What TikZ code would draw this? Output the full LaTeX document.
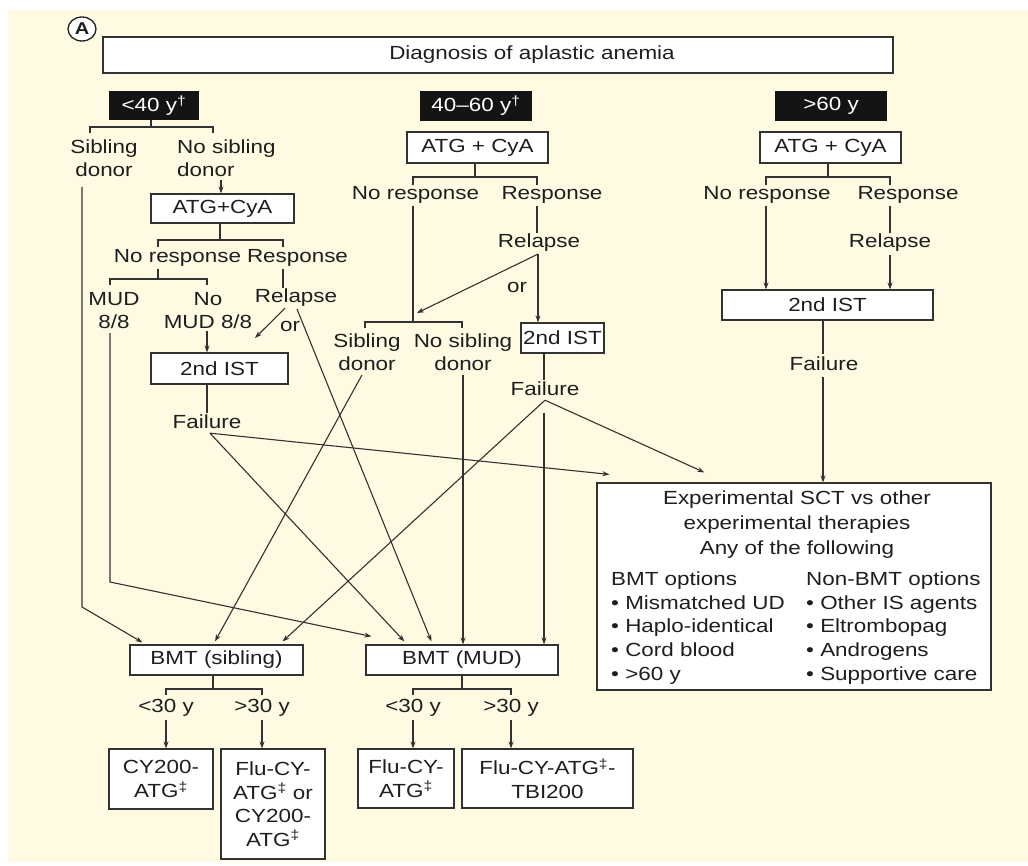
\documentclass[tikz,border=0pt]{standalone}
\usepackage{fontspec}
\setmainfont{Liberation Sans}[FakeStretch=1.18]
\usetikzlibrary{arrows.meta,calc,shapes.geometric}
\definecolor{bg}{RGB}{254,251,226}
\definecolor{ink}{RGB}{30,30,30}
\definecolor{linec}{RGB}{50,50,50}
\tikzset{
 base/.style={font=\fontsize{19}{23.5}\selectfont, text=ink, align=center, inner sep=0pt},
 box/.style={base, draw=linec, fill=white, line width=1.2pt},
 blk/.style={base, fill=black!92, text=white},
 lbl/.style={base},
 ln/.style={draw=linec, line width=1.1pt},
 arr/.style={ln, -{Stealth[length=7pt,width=5pt]}},
}
\begin{document}
\begin{tikzpicture}[x=1pt,y=-1pt]
\useasboundingbox (0,0) rectangle (1028,865);
\fill[bg] (8,10) rectangle (1028,862);

% ---------- header ----------
\node[box, minimum width=790pt, minimum height=36pt] (main) at (498,55) {};
\node[lbl] (maint) at (532,55) {Diagnosis of aplastic anemia};
\node[ellipse, draw=ink, fill=white, line width=1.3pt, inner sep=0pt, minimum width=28pt, minimum height=24pt,
      font=\fontsize{17}{17}\selectfont\bfseries, text=ink] (cA) at (82,29) {A};

\node[blk, minimum width=90pt, minimum height=29pt] (b1) at (154,105.5) {<40 y\textsuperscript{†}};
\node[blk, minimum width=112pt, minimum height=30pt] (b2) at (476,106) {40–60 y\textsuperscript{†}};
\node[blk, minimum width=112pt, minimum height=30pt] (b3) at (831,106) {>60 y};

% ---------- left column ----------
\node[lbl] (sd1) at (104,158) {Sibling\\donor};
\node[lbl, align=left, anchor=west] (nsd1) at (177,158) {No sibling\\donor};
\node[box, minimum width=143pt, minimum height=29pt] (atg1) at (222.5,208.5) {ATG+CyA};
\node[lbl] (nr1) at (177.5,258) {No response};
\node[lbl] (r1) at (297.5,258) {Response};
\node[lbl] (mud1) at (114,310.5) {MUD\\8/8};
\node[lbl] (nmud1) at (208,310.5) {No\\MUD 8/8};
\node[lbl] (rel1) at (296,298) {Relapse};
\node[lbl] (or1) at (290,326) {or};
\node[box, minimum width=137pt, minimum height=31pt] (ist1) at (219.5,368.5) {2nd IST};
\node[lbl] (fail1) at (207,422) {Failure};

% ---------- middle column ----------
\node[box, minimum width=141pt, minimum height=31pt] (atg2) at (477.5,147.5) {ATG + CyA};
\node[lbl] (nr2) at (415.5,195) {No response};
\node[lbl] (r2) at (552,195) {Response};
\node[lbl] (rel2) at (539,243) {Relapse};
\node[lbl] (or2) at (517,287) {or};
\node[lbl] (sd2) at (367,352) {Sibling\\donor};
\node[lbl] (nsd2) at (463,352) {No sibling\\donor};
\node[box, minimum width=83pt, minimum height=30pt] (ist2) at (562.5,338) {2nd IST};
\node[lbl] (fail2) at (545,389) {Failure};

% ---------- right column ----------
\node[box, minimum width=141pt, minimum height=31pt] (atg3) at (830.5,147.5) {ATG + CyA};
\node[lbl] (nr3) at (767,195) {No response};
\node[lbl] (r3) at (908,195) {Response};
\node[lbl] (rel3) at (890,243) {Relapse};
\node[box, minimum width=211pt, minimum height=30pt] (ist3) at (827.5,305) {2nd IST};
\node[lbl] (fail3) at (824,364) {Failure};

% ---------- experimental box ----------
\node[box, minimum width=394pt, minimum height=207pt] (sct) at (794,586.5) {};
\node[lbl, font=\fontsize{19}{25}\selectfont] (sctt) at (797,525) {Experimental SCT vs other\\experimental therapies\\Any of the following};
\node[lbl, align=left, anchor=west, font=\fontsize{19}{23.75}\selectfont] (bmto) at (611,628) {BMT options\\• Mismatched UD\\• Haplo-identical\\• Cord blood\\• >60 y};
\node[lbl, align=left, anchor=west, font=\fontsize{19}{23.75}\selectfont] (nbmto) at (806,628) {Non-BMT options\\• Other IS agents\\• Eltrombopag\\• Androgens\\• Supportive care};

% ---------- BMT boxes ----------
\node[box, minimum width=173pt, minimum height=30pt] (sib) at (216.5,660) {BMT (sibling)};
\node[box, minimum width=192pt, minimum height=30pt] (mud) at (462,660) {BMT (MUD)};
\node[lbl] (lt1) at (166,708) {<30 y};
\node[lbl] (gt1) at (262,708) {>30 y};
\node[lbl] (lt2) at (413,708) {<30 y};
\node[lbl] (gt2) at (511,708) {>30 y};
\node[box, minimum width=104pt, minimum height=60pt] (cy1) at (161,779) {CY200-\\ATG\textsuperscript{‡}};
\node[box, minimum width=104pt, minimum height=110pt] (fl1) at (273,804) {Flu-CY-\\ATG\textsuperscript{‡} or\\CY200-\\ATG\textsuperscript{‡}};
\node[box, minimum width=96pt, minimum height=59pt] (fl2) at (406,778.5) {Flu-CY-\\ATG\textsuperscript{‡}};
\node[box, minimum width=171pt, minimum height=59pt] (fl3) at (547.5,778.5) {Flu-CY-ATG\textsuperscript{‡}-\\TBI200};

% ---------- coordinates ----------
\coordinate (k1) at (151,127);
\coordinate (k1l) at (90,127);
\coordinate (k1r) at (213,127);
\coordinate (k2) at (220,240);
\coordinate (k2l) at (158,240);
\coordinate (k2r) at (283,240);
\coordinate (k3) at (158,279);
\coordinate (k3l) at (110,279);
\coordinate (k3r) at (207,279);
\coordinate (m1) at (475,177);
\coordinate (m1l) at (413,177);
\coordinate (m1r) at (537,177);
\coordinate (m2) at (413,322);
\coordinate (m2l) at (365,322);
\coordinate (m2r) at (462,322);
\coordinate (q1) at (828,177);
\coordinate (q1l) at (766,177);
\coordinate (q1r) at (890,177);
\coordinate (s1) at (213,689);
\coordinate (s1l) at (166,689);
\coordinate (s1r) at (262,689);
\coordinate (u1) at (462,689);
\coordinate (u1l) at (413,689);
\coordinate (u1r) at (511,689);

% ---------- brackets ----------
\draw[ln] (b1.south -| k1) -- (k1);
\draw[ln] ($(k1l)+(0,6)$) -- (k1l) -- (k1r) -- ($(k1r)+(0,6)$);
\draw[ln] (atg1.south -| k2) -- (k2);
\draw[ln] ($(k2l)+(0,7)$) -- (k2l) -- (k2r) -- ($(k2r)+(0,7)$);
\draw[ln] ($(nr1.south -| k3)+(0,2)$) -- (k3);
\draw[ln] ($(k3l)+(0,6)$) -- (k3l) -- (k3r) -- ($(k3r)+(0,6)$);
\draw[ln] (atg2.south -| m1) -- (m1);
\draw[ln] ($(m1l)+(0,8)$) -- (m1l) -- (m1r) -- ($(m1r)+(0,8)$);
\draw[ln] ($(nr2.south -| m2)+(0,2)$) -- (m2);
\draw[ln] ($(m2l)+(0,6)$) -- (m2l) -- (m2r) -- ($(m2r)+(0,6)$);
\draw[ln] (atg3.south -| q1) -- (q1);
\draw[ln] ($(q1l)+(0,8)$) -- (q1l) -- (q1r) -- ($(q1r)+(0,8)$);
\draw[ln] (sib.south -| s1) -- (s1);
\draw[ln] ($(s1l)+(0,6)$) -- (s1l) -- (s1r) -- ($(s1r)+(0,6)$);
\draw[ln] (mud.south -| u1) -- (u1);
\draw[ln] ($(u1l)+(0,6)$) -- (u1l) -- (u1r) -- ($(u1r)+(0,6)$);

% ---------- left column connectors ----------
\coordinate (a1x) at (221,0);
\draw[arr] ($(nsd1.south -| a1x)+(0,3)$) -- (atg1.north -| a1x);
\draw[ln] ($(r1.south -| k2r)+(0,2)$) -- ($(rel1.north -| k2r)+(0,-1)$);
\draw[arr] ($(nmud1.south -| k3r)+(0,2)$) -- (ist1.north -| k3r);
\coordinate (or1tip) at (255,338);
\draw[arr] ($(rel1.south)+(-11,1)$) -- (or1tip);
\draw[ln] (ist1.south -| fail1.north) -- ($(fail1.north)+(0,-2)$);
% sibling donor -> BMT sibling
\coordinate (sdv) at (82,607);
\draw[arr] ($(sd1.south -| sdv)+(0,10)$) -- (sdv) -- ($(sib.north west)+(13,-2)$);
% MUD 8/8 -> BMT MUD
\coordinate (mdv) at (110,582);
\draw[arr] ($(mud1.south -| mdv)+(0,4)$) -- (mdv) -- ($(mud.north west)+(6,-8)$);
% relapse -> BMT MUD
\draw[arr] ($(rel1.south)+(1,2)$) -- ($(mud.north west)+(66,-3)$);
% failure (left)
\coordinate (f1o) at ($(fail1.south)+(3,4)$);
\draw[arr] (f1o) -- ($(sct.north west)+(13,-8)$);
\draw[arr] (f1o) -- ($(mud.north west)+(39,-3)$);

% ---------- middle column connectors ----------
\draw[ln] ($(r2.south -| m1r)+(0,2)$) -- ($(rel2.north -| m1r)+(0,-1)$);
\coordinate (r2o) at ($(rel2.south)+(-1,2)$);
\coordinate (or2tip) at (417,313);
\draw[arr] (r2o) -- (or2tip);
\draw[arr] (r2o) -- (r2o |- ist2.north);
\coordinate (f2x) at (544,0);
\draw[ln] (ist2.south -| f2x) -- ($(fail2.north -| f2x)+(0,-2)$);
\draw[arr] ($(sd2.south)+(-5,4)$) -- ($(sib.north)+(-1.5,-3)$);
\draw[arr] ($(nsd2.south)+(0,4)$) -- (nsd2.south |- mud.north);
\coordinate (f2o) at ($(fail2.south)+(0,4)$);
\draw[arr] (f2o) -- ($(sct.north west)+(108,-10)$);
\draw[arr] (f2o) -- ($(sib.north east)+(-21,-3)$);
\draw[arr] ($(fail2.south -| f2x)+(0,17)$) -- (f2x |- mud.north);

% ---------- right column connectors ----------
\draw[arr] ($(nr3.south -| q1l)+(0,2)$) -- (ist3.north -| q1l);
\draw[ln] ($(r3.south -| q1r)+(0,2)$) -- ($(rel3.north -| q1r)+(0,-1)$);
\draw[arr] ($(rel3.south -| q1r)+(0,3)$) -- (ist3.north -| q1r);
\coordinate (f3x) at (823,0);
\draw[ln] (ist3.south -| f3x) -- ($(fail3.north -| f3x)+(0,-3)$);
\draw[arr] ($(fail3.south -| f3x)+(0,6)$) -- (sct.north -| f3x);

% ---------- bottom connectors ----------
\draw[arr] ($(lt1.south)+(0,3)$) -- (lt1.south |- cy1.north);
\draw[arr] ($(gt1.south)+(0,3)$) -- (gt1.south |- fl1.north);
\draw[arr] ($(lt2.south)+(0,3)$) -- (lt2.south |- fl2.north);
\draw[arr] ($(gt2.south)+(0,3)$) -- (gt2.south |- fl3.north);
\end{tikzpicture}
\end{document}
